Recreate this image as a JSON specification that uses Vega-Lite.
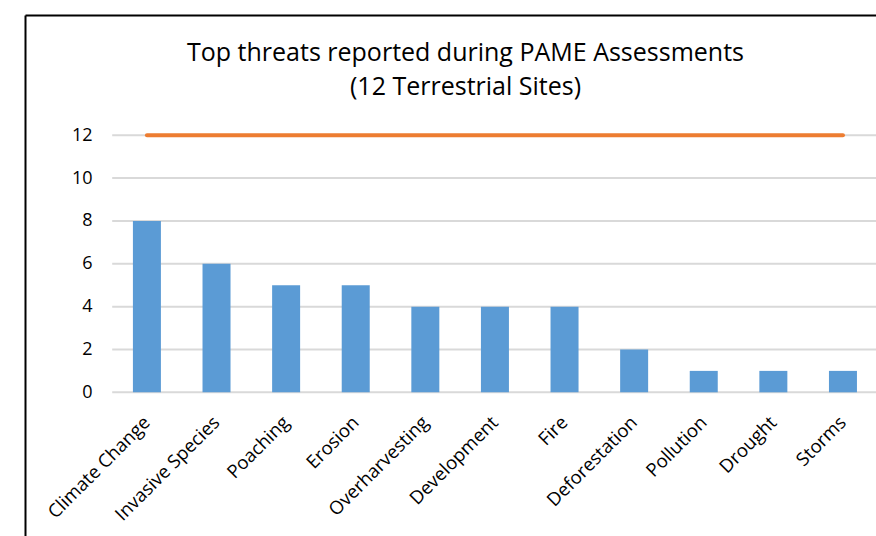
{
  "$schema": "https://vega.github.io/schema/vega-lite/v6.json",
  "width": 851,
  "height": 521,
  "autosize": {"type": "none"},
  "padding": {"left": 25, "top": 15, "right": 0, "bottom": 0},
  "background": "white",
  "config": {
    "view": {"stroke": null},
    "font": "Open Sans"
  },
  "title": {
    "text": ["Top threats reported during PAME Assessments", "(12 Terrestrial Sites)"],
    "font": "Open Sans",
    "fontSize": 25,
    "fontWeight": "normal",
    "color": "#000000",
    "anchor": "middle",
    "frame": "group",
    "baseline": "alphabetic",
    "lineHeight": 34,
    "dx": 15,
    "offset": -105
  },
  "datasets": {
    "threats": [
      {"threat": "Climate Change", "sites_reporting": 8, "total_sites": 12},
      {"threat": "Invasive Species", "sites_reporting": 6, "total_sites": 12},
      {"threat": "Poaching", "sites_reporting": 5, "total_sites": 12},
      {"threat": "Erosion", "sites_reporting": 5, "total_sites": 12},
      {"threat": "Overharvesting", "sites_reporting": 4, "total_sites": 12},
      {"threat": "Development", "sites_reporting": 4, "total_sites": 12},
      {"threat": "Fire", "sites_reporting": 4, "total_sites": 12},
      {"threat": "Deforestation", "sites_reporting": 2, "total_sites": 12},
      {"threat": "Pollution", "sites_reporting": 1, "total_sites": 12},
      {"threat": "Drought", "sites_reporting": 1, "total_sites": 12},
      {"threat": "Storms", "sites_reporting": 1, "total_sites": 12}
    ],
    "gridlines": [
      {"level": 0, "from_index": -0.5, "to_index": 10.5},
      {"level": 2, "from_index": -0.5, "to_index": 10.5},
      {"level": 4, "from_index": -0.5, "to_index": 10.5},
      {"level": 6, "from_index": -0.5, "to_index": 10.5},
      {"level": 8, "from_index": -0.5, "to_index": 10.5},
      {"level": 10, "from_index": -0.5, "to_index": 10.5},
      {"level": 12, "from_index": -0.5, "to_index": 10.5}
    ]
  },
  "layer": [
    {
      "data": {"name": "gridlines"},
      "mark": {"type": "rule", "color": "#d9d9d9", "strokeWidth": 2},
      "encoding": {
        "x": {
          "field": "from_index",
          "type": "quantitative",
          "scale": {"domain": [-1.7529, 10.4741], "nice": false, "zero": false},
          "axis": {
            "orient": "top",
            "title": null,
            "labels": false,
            "ticks": false,
            "grid": false,
            "domain": true,
            "domainColor": "#000000",
            "domainWidth": 2
          }
        },
        "x2": {"field": "to_index"},
        "y": {
          "field": "level",
          "type": "quantitative",
          "scale": {"domain": [-6.709, 17.616], "nice": false, "zero": false},
          "axis": {
            "orient": "left",
            "title": null,
            "labels": false,
            "ticks": false,
            "grid": false,
            "domain": true,
            "domainColor": "#000000",
            "domainWidth": 2
          }
        }
      }
    },
    {
      "data": {"name": "threats"},
      "encoding": {
        "x": {
          "field": "threat",
          "type": "nominal",
          "sort": null,
          "scale": {"paddingInner": 0.5977, "paddingOuter": 0.912, "align": 0.85, "round": false},
          "axis": {
            "orient": "bottom",
            "offset": -144,
            "title": null,
            "domain": false,
            "ticks": false,
            "tickSize": 0,
            "grid": false,
            "labelAngle": -45,
            "labelAlign": "right",
            "labelBaseline": "middle",
            "labelPadding": 27,
            "labelFont": "Open Sans",
            "labelFontSize": 18.5,
            "labelColor": "#000000",
            "labelOverlap": false,
            "labelLimit": 300
          }
        }
      },
      "layer": [
        {
          "mark": {"type": "bar", "color": "#5b9bd5"},
          "encoding": {
            "y": {
              "field": "sites_reporting",
              "type": "quantitative",
              "scale": {"domain": [-6.709, 17.616], "nice": false, "zero": false},
              "axis": {
                "orient": "left",
                "offset": -87,
                "title": null,
                "values": [0, 2, 4, 6, 8, 10, 12],
                "domain": false,
                "ticks": false,
                "tickSize": 0,
                "grid": false,
                "labelPadding": 20,
                "labelFont": "Open Sans",
                "labelFontSize": 18,
                "labelColor": "#000000"
              }
            },
            "y2": {"datum": 0}
          }
        },
        {
          "mark": {"type": "line", "color": "#ed7d31", "strokeWidth": 4, "strokeCap": "round"},
          "encoding": {
            "y": {"field": "total_sites", "type": "quantitative"}
          }
        }
      ]
    }
  ],
  "resolve": {
    "scale": {"x": "independent", "y": "independent"},
    "axis": {"x": "independent", "y": "independent"}
  }
}
